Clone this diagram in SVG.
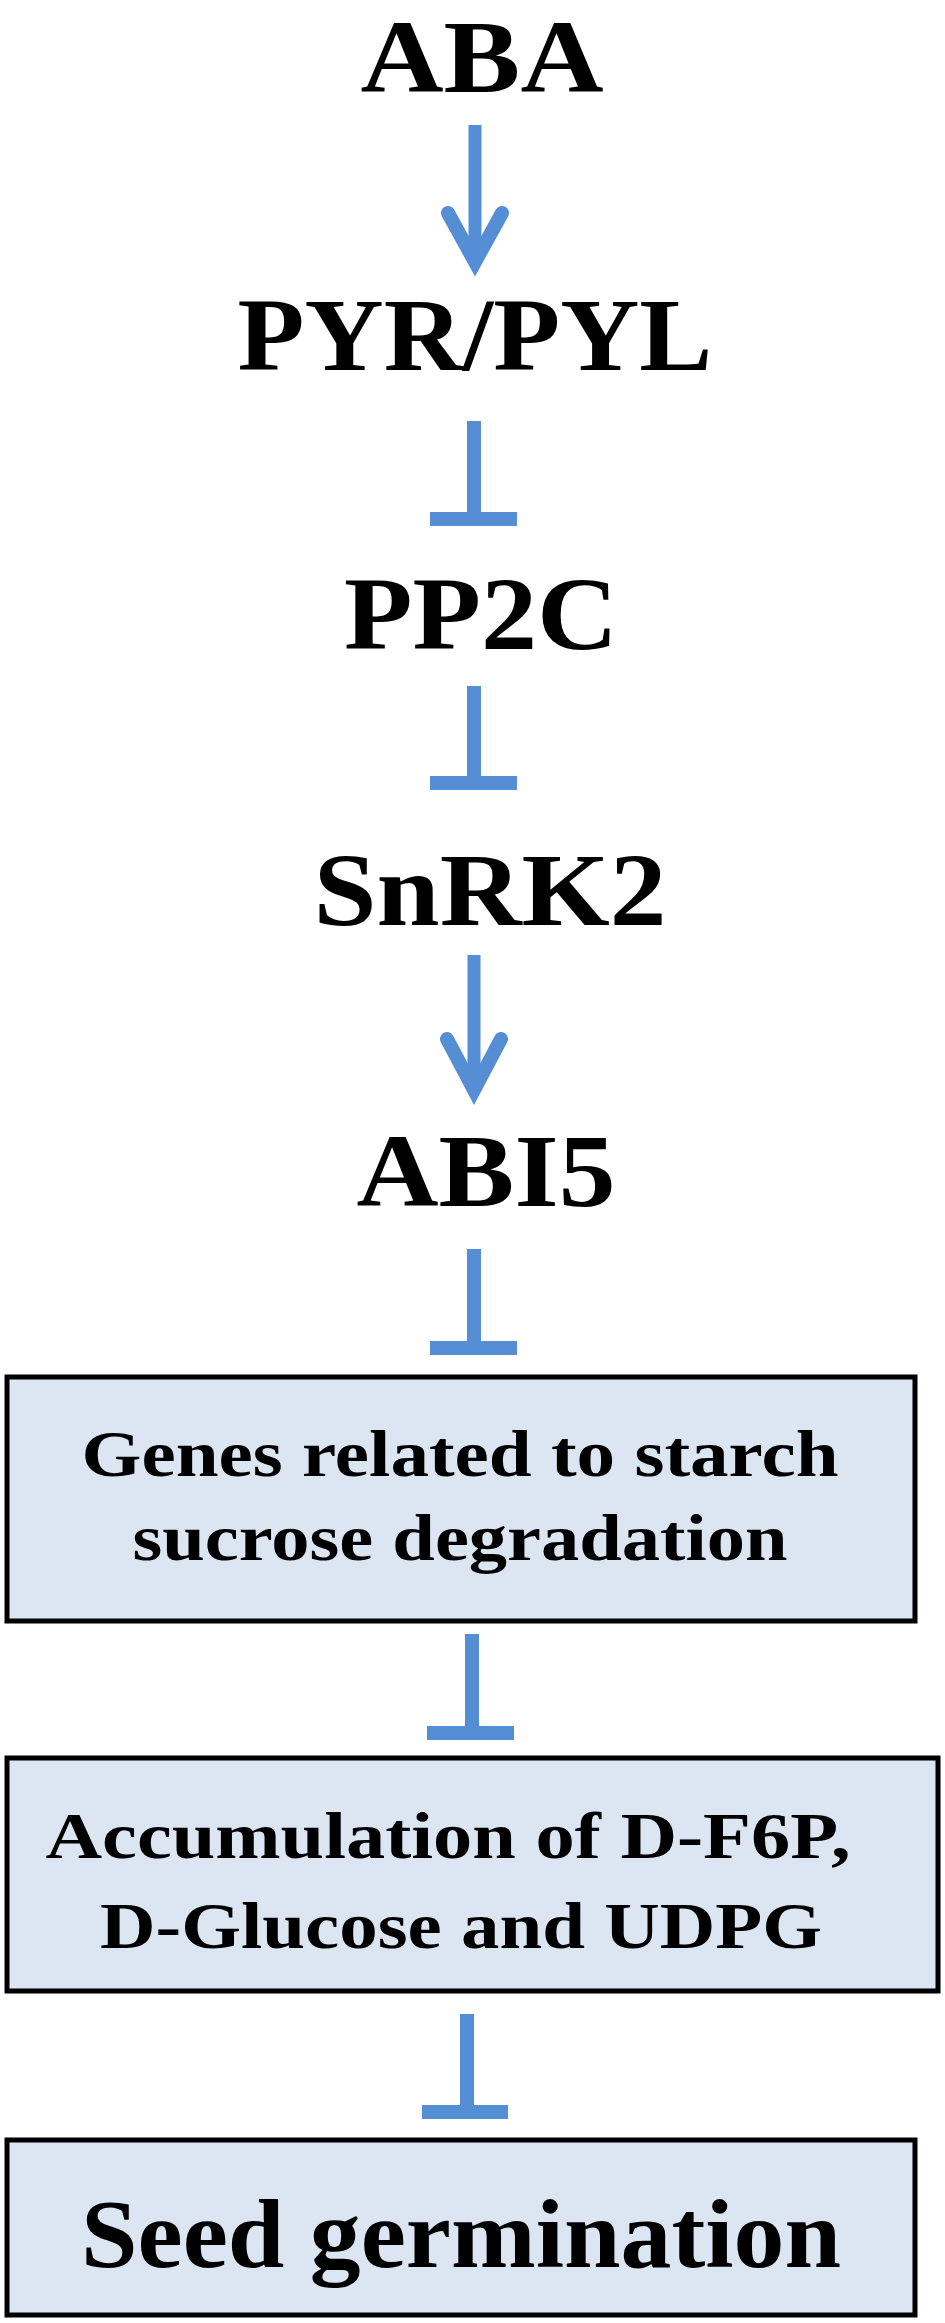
<svg xmlns="http://www.w3.org/2000/svg" width="945" height="2323" viewBox="0 0 945 2323">
<style>
text{font-family:"Liberation Serif","Times New Roman",serif;font-weight:bold;fill:#000;text-anchor:middle}
.big{font-size:104px}
.mid{font-size:65px}
.box{fill:#dce6f2;stroke:#000;stroke-width:5}
.c{stroke:#558ed5;fill:none}
</style>
<rect width="945" height="2323" fill="#fff"/>
<g id="aba"><text class="big" x="482" y="92" textLength="243" lengthAdjust="spacingAndGlyphs">ABA</text></g>
<g id="pyr"><text class="big" x="475" y="370" textLength="475" lengthAdjust="spacingAndGlyphs">PYR/PYL</text></g>
<g id="pp2c"><text class="big" x="481" y="649" textLength="274" lengthAdjust="spacingAndGlyphs">PP2C</text></g>
<g id="snrk2"><text class="big" x="490" y="925" textLength="353" lengthAdjust="spacingAndGlyphs">SnRK2</text></g>
<g id="abi5"><text class="big" x="486" y="1206" textLength="259" lengthAdjust="spacingAndGlyphs">ABI5</text></g>
<g id="genes"><rect class="box" x="7" y="1377" width="908" height="244"/>
<text class="mid" x="460" y="1476" textLength="757" lengthAdjust="spacingAndGlyphs">Genes related to starch</text>
<text class="mid" x="460" y="1560" textLength="655" lengthAdjust="spacingAndGlyphs">sucrose degradation</text></g>
<g id="accum"><rect class="box" x="7" y="1758" width="931" height="233"/>
<text class="mid" x="448" y="1858" textLength="805" lengthAdjust="spacingAndGlyphs">Accumulation of D-F6P,</text>
<text class="mid" x="461" y="1948" textLength="722" lengthAdjust="spacingAndGlyphs">D-Glucose and UDPG</text></g>
<g id="seed"><rect class="box" x="7" y="2140" width="908" height="175"/>
<text x="461" y="2267" font-size="98" textLength="760" lengthAdjust="spacingAndGlyphs">Seed germination</text></g>
<g id="connectors">
<path class="c" d="M475 125V255" stroke-width="13"/>
<path class="c" d="M448 213L475 262L502 213" stroke-width="14" stroke-linecap="round" stroke-linejoin="miter"/>
<path class="c" d="M474 421V519M430 519H517" stroke-width="14"/>
<path class="c" d="M474 686V783M430 783H517" stroke-width="14"/>
<path class="c" d="M474 955V1085" stroke-width="13"/>
<path class="c" d="M447 1039L474 1090L501 1039" stroke-width="14" stroke-linecap="round"/>
<path class="c" d="M474 1249V1348M430 1348H517" stroke-width="14"/>
<path class="c" d="M472 1634V1733M427 1733H514" stroke-width="14"/>
<path class="c" d="M467 2014V2112M422 2112H508" stroke-width="14"/>
</g>
</svg>
